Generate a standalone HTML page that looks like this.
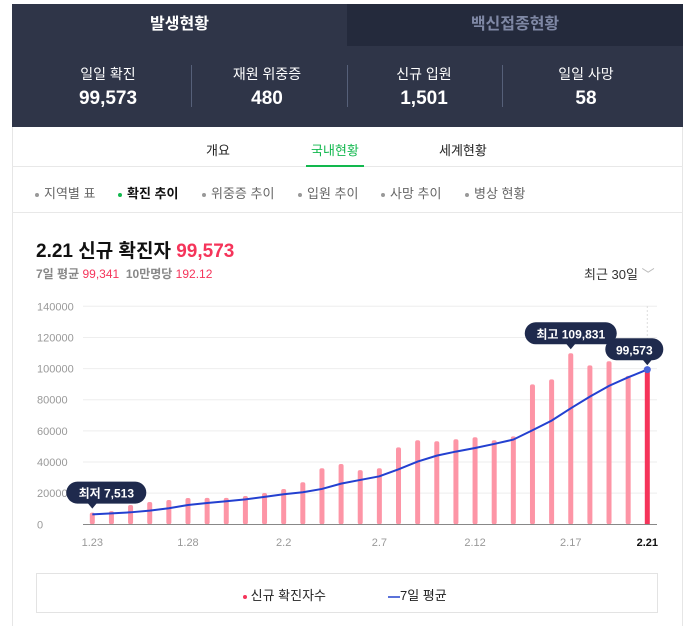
<!DOCTYPE html>
<html><head><meta charset="utf-8"><style>
*{box-sizing:border-box;margin:0;padding:0}
body{width:696px;height:626px;background:#fff;font-family:"Liberation Sans","Noto Sans CJK KR",sans-serif;position:relative;overflow:hidden}
.abs{position:absolute}
.panel{left:12px;top:4px;width:671px;height:622px;border-left:1px solid #e6e6e6;border-right:1px solid #e6e6e6}
.hdr{left:12px;top:4px;width:671px;height:123px;background:#2f3548}
.tab{top:0;height:42px;line-height:42px;text-align:center;font-size:16px;font-weight:bold}
.stat{top:60px;width:168px;text-align:center;color:#fff}
.stat .l{font-size:14px}
.stat .v{font-size:19px;font-weight:bold;margin-top:4px}
.sep{top:61px;width:1px;height:42px;background:#566079}
.sub{font-size:13px;color:#666}
.dot{display:inline-block;width:4px;height:4px;border-radius:2px;background:#999;vertical-align:middle;margin-right:5px}
</style></head><body>
<div class="abs panel"></div>
<div class="abs hdr">
 <div class="abs tab" style="left:0;width:335px;background:#2f3548;color:#fff">발생현황</div>
 <div class="abs tab" style="left:335px;width:336px;background:#242a3c;color:#7f88a5">백신접종현황</div>
 <div class="abs stat" style="left:12px"><div class="l">일일 확진</div><div class="v">99,573</div></div>
 <div class="abs sep" style="left:179px"></div>
 <div class="abs stat" style="left:171px"><div class="l">재원 위중증</div><div class="v">480</div></div>
 <div class="abs sep" style="left:335px"></div>
 <div class="abs stat" style="left:328px"><div class="l">신규 입원</div><div class="v">1,501</div></div>
 <div class="abs sep" style="left:490px"></div>
 <div class="abs stat" style="left:490px"><div class="l">일일 사망</div><div class="v">58</div></div>
</div>
<div class="abs" style="left:12px;top:166px;width:671px;height:1px;background:#e8e8e8"></div>
<div class="abs" style="left:206px;top:140px;font-size:13px;color:#222">개요</div>
<div class="abs" style="left:311px;top:140px;font-size:13px;color:#12b84e">국내현황</div>
<div class="abs" style="left:306px;top:165px;width:58px;height:2px;background:#12b84e"></div>
<div class="abs" style="left:439px;top:140px;font-size:13px;color:#222">세계현황</div>
<div class="abs" style="left:12px;top:212px;width:671px;height:1px;background:#e8e8e8"></div>
<div class="abs sub" style="left:35px;top:183px"><span class="dot"></span>지역별 표</div>
<div class="abs sub" style="left:118px;top:183px;color:#111;font-weight:bold"><span class="dot" style="background:#12b84e"></span>확진 추이</div>
<div class="abs sub" style="left:202px;top:183px"><span class="dot"></span>위중증 추이</div>
<div class="abs sub" style="left:298px;top:183px"><span class="dot"></span>입원 추이</div>
<div class="abs sub" style="left:381px;top:183px"><span class="dot"></span>사망 추이</div>
<div class="abs sub" style="left:465px;top:183px"><span class="dot"></span>병상 현황</div>
<div class="abs" style="left:36px;top:236px;font-size:19px;font-weight:bold;color:#111">2.21 신규 확진자 <span style="color:#f5345a">99,573</span></div>
<div class="abs" style="left:36px;top:265px;font-size:12px;color:#888"><b>7일 평균</b> <span style="color:#f5345a">99,341</span>&nbsp; <b>10만명당</b> <span style="color:#f5345a">192.12</span></div>
<div class="abs" style="left:584px;top:264px;font-size:13px;color:#333">최근 30일 <span style="color:#bbb">﹀</span></div>
<svg class="abs" style="left:0;top:0" width="696" height="626" id="chart"></svg>
<div class="abs" style="left:36px;top:573px;width:622px;height:40px;border:1px solid #e3e3e3">
 <div class="abs" style="left:206px;top:11px;font-size:13px;color:#222"><span style="display:inline-block;width:4px;height:4px;border-radius:2px;background:#f5345a;vertical-align:middle"></span> 신규 확진자수</div>
 <div class="abs" style="left:351px;top:11px;font-size:13px;color:#222"><span style="display:inline-block;width:12px;height:2px;background:#5b72d9;vertical-align:middle"></span>7일 평균</div>
</div>
<script>
const dates=["1.23","1.24","1.25","1.26","1.27","1.28","1.29","1.30","1.31","2.1","2.2","2.3","2.4","2.5","2.6","2.7","2.8","2.9","2.10","2.11","2.12","2.13","2.14","2.15","2.16","2.17","2.18","2.19","2.20","2.21"];
const cases=[7513,8500,12400,14300,15600,16900,17000,17000,18200,20100,22700,27000,36000,38700,34800,36000,49400,54000,53300,54600,55900,54000,56500,89900,93100,109831,102100,104700,95300,99573];
const avg7=[6400,7000,7700,8800,10300,12400,13700,14800,16000,17600,19300,20600,22700,26100,28500,30800,35300,40300,44100,46700,49000,51600,54400,60400,66600,74500,82000,88900,94400,99341];
const yTicks=[0,20000,40000,60000,80000,100000,120000,140000];
const xTickIdx=[0,5,10,15,20,25,29];
const svg=document.getElementById('chart');const NS='http://www.w3.org/2000/svg';
const x=i=>92.3+i*(647.3-92.3)/29;const y=v=>524.3-v*218/140000;
function mk(t,a,p){const e=document.createElementNS(NS,t);for(const k in a)e.setAttribute(k,a[k]);(p||svg).appendChild(e);return e;}
yTicks.forEach(v=>{if(v>0){const g=mk('line',{x1:83,x2:657,y1:y(v),y2:y(v),stroke:'#eee'});}
const t=mk('text',{x:37,y:y(v)+4,'font-size':11,fill:'#999'});t.textContent=v;});
mk('line',{x1:647.3,x2:647.3,y1:306,y2:524,stroke:'#ddd','stroke-dasharray':'2,2'});
cases.forEach((v,i)=>{const last=i===cases.length-1;const b=mk('rect',{x:x(i)-2.5,y:y(v),width:5,height:y(0)-y(v),fill:last?'#f5345a':'#fd95a6',rx:last?0:2});
});
mk('line',{x1:83,x2:657,y1:524.5,y2:524.5,stroke:'#888'});
const pl=mk('polyline',{points:avg7.map((v,i)=>x(i)+','+y(v)).join(' '),fill:'none',stroke:'#2340d0','stroke-width':2});

const n=avg7.length-1;const dp=mk('circle',{cx:x(n),cy:y(avg7[n]),r:3.5,fill:'#4a64d8'});

xTickIdx.forEach(i=>{const last=i===n;const t=mk('text',{x:x(i),y:546,'font-size':11,fill:last?'#111':'#999','font-weight':last?'bold':'normal','text-anchor':'middle'});t.textContent=dates[i];
});
function tip(i,v,label,w,off){const cx=x(i),by=y(v)-6,bx=cx+off;const g=mk('g',{});
mk('rect',{x:bx-w/2,y:by-25,width:w,height:22,rx:11,fill:'#1f2a4d'},g);
mk('path',{d:`M${cx-5},${by-4} L${cx},${by+2} L${cx+5},${by-4}Z`,fill:'#1f2a4d'},g);
const t=mk('text',{x:bx,y:by-9,'font-size':12,'font-weight':'bold',fill:'#fff','text-anchor':'middle'},g);t.textContent=label;
}
let mi=0,ma=0;cases.forEach((v,i)=>{if(v<cases[mi])mi=i;if(v>cases[ma])ma=i;});
tip(mi,cases[mi],'최저 '+cases[mi].toLocaleString('en-US'),80,14);
tip(ma,cases[ma],'최고 '+cases[ma].toLocaleString('en-US'),92,0);
tip(n,cases[n],cases[n].toLocaleString('en-US'),58,-13);
</script>
</body></html>
